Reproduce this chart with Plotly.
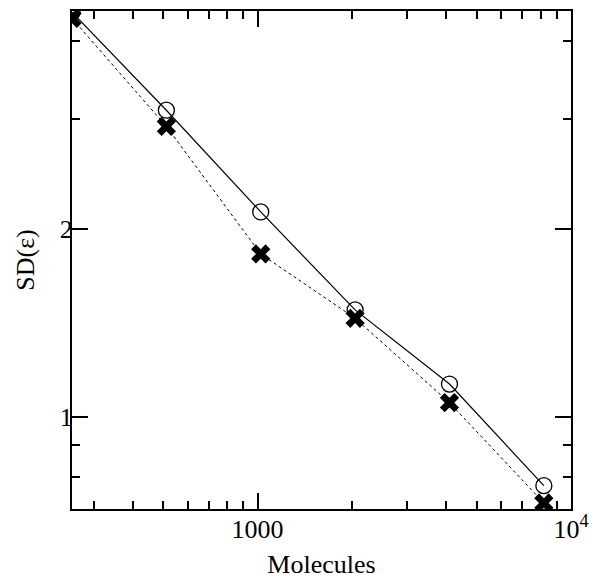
import plotly.graph_objects as go
import numpy as np

molecules = [256, 512, 1024, 2048, 4096, 8192]
sd_circles = [4.45, 3.10, 2.13, 1.484, 1.129, 0.776]
sd_crosses = [4.35, 2.92, 1.824, 1.439, 1.054, 0.728]

x_major = [1000, 10000]
x_major_text = ["1000", "10<sup>4</sup>"]
x_minor = [300, 400, 500, 600, 700, 800, 900, 2000, 3000, 4000, 5000, 6000, 7000, 8000, 9000]
y_major = [1, 2]
y_major_text = ["1", "2"]
y_minor = [0.8, 0.9, 3, 4]

fig = go.Figure()
fig.add_trace(go.Scatter(
    x=molecules, y=sd_crosses, mode="lines+markers",
    line=dict(color="black", width=1, dash="dot"),
    marker=dict(symbol="x", size=17, color="black"),
    showlegend=False))
fig.add_trace(go.Scatter(
    x=molecules, y=sd_circles, mode="lines+markers",
    line=dict(color="black", width=1.2),
    marker=dict(symbol="circle-open", size=16, color="black", line=dict(width=1.3)),
    showlegend=False))

font = dict(family="Liberation Serif, Times New Roman, serif", size=26, color="black")

fig.update_layout(
    width=598, height=572,
    margin=dict(l=64, r=35, t=3, b=71),
    plot_bgcolor="white", paper_bgcolor="white",
    font=font,
    xaxis=dict(
        type="log", range=[np.log10(256), 4], automargin=False,
        showline=True, linecolor="black", linewidth=2, mirror="ticks",
        showgrid=False, zeroline=False,
        ticks="inside", ticklen=16, tickwidth=1.5, tickcolor="black",
        tickmode="array", tickvals=x_major, ticktext=x_major_text,
        ticklabelstandoff=-4,
        minor=dict(ticks="inside", ticklen=8, tickwidth=1.5, tickcolor="black",
                   tickmode="array", tickvals=x_minor, showgrid=False),
        title=dict(text="Molecules", font=font, standoff=12),
        tickfont=font,
    ),
    yaxis=dict(
        type="log", range=[np.log10(0.712), np.log10(4.47)], automargin=False,
        showline=True, linecolor="black", linewidth=2, mirror="ticks",
        showgrid=False, zeroline=False,
        ticks="inside", ticklen=16, tickwidth=1.5, tickcolor="black",
        tickmode="array", tickvals=y_major, ticktext=y_major_text,
        ticklabelstandoff=-8,
        minor=dict(ticks="inside", ticklen=8, tickwidth=1.5, tickcolor="black",
                   tickmode="array", tickvals=y_minor, showgrid=False),
        title=dict(text="SD(ε)", font=font, standoff=18),
        tickfont=font,
    ),
)

fig.write_html("out.html")
